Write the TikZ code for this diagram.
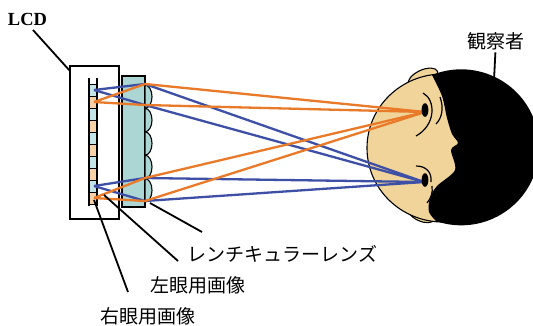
\documentclass[tikz,border=0pt]{standalone}
\usepackage{fontspec}
\setmainfont{Liberation Serif}
\newfontfamily\jpfont{Noto Sans CJK JP}

\definecolor{rayorange}{RGB}{232,122,42}
\definecolor{rayblue}{RGB}{62,80,165}
\definecolor{cellblue}{RGB}{196,228,232}
\definecolor{cellorange}{RGB}{247,210,168}
\definecolor{lensteal}{RGB}{172,214,212}
\definecolor{skin}{RGB}{241,212,154}

\begin{document}
\begin{tikzpicture}[
    x=1pt, y=-1pt,
    jplabel/.style={font=\jpfont\fontsize{19}{22}\selectfont, inner sep=0pt},
    leader/.style={line width=1.8pt},
    outline/.style={draw=black, line width=1.1pt},
    lray/.style={draw=rayorange, line width=2.3pt, line join=round},
    rray/.style={draw=rayblue, line width=2.3pt, line join=round}
]
\useasboundingbox[fill=white] (0,0) rectangle (533,325);

% LCD panel and its pixel column
\filldraw[outline, fill=white] (70,66) rectangle (119,219);
\foreach \k in {0,2,...,8}
    \fill[cellblue] (89,84+12*\k) rectangle (97,96+12*\k);
\foreach \k in {1,3,...,9}
    \fill[cellorange] (89,84+12*\k) rectangle (97,96+12*\k);
\foreach \k in {0,...,10}
    \draw[line width=0.9pt] (89,84+12*\k) -- (97,84+12*\k);
\draw[line width=1.1pt] (89,78) -- (89,206) (97,78) -- (97,206);

% Lenticular lens
\filldraw[outline, fill=lensteal] (122,76) rectangle (145,207);
\foreach \k in {0,...,4}
    \filldraw[outline, fill=lensteal] (145,85+23.4*\k)
        arc[start angle=-90, end angle=90, x radius=7, y radius=11.7] -- cycle;

% Head seen from above
\filldraw[outline, fill=skin, rotate around={25:(423,78)}] (423,78) ellipse[x radius=16, y radius=8];
\filldraw[outline, fill=skin, rotate around={-25:(421,214)}] (421,214) ellipse[x radius=14, y radius=7];
\filldraw[outline, fill=skin] (443,148) ellipse[x radius=76, y radius=74];
\fill[black] (432,75) arc[start angle=-112, end angle=108, radius=78]
    -- plot[smooth] coordinates {(437,222) (429,212) (430,198) (437,186) (455,170)
        (451,150) (458,143) (452,134) (447,118) (442,96) (432,75)} -- cycle;
\draw[line width=1.2pt] (423,93) .. controls (436,100) and (436,125) .. (416,136);
\draw[line width=1.2pt] (440,97) .. controls (444,108) and (442,118) .. (436,124);
\draw[line width=1.2pt] (416,166) .. controls (426,166) and (432,172) .. (431,182);
\draw[line width=1.2pt] (432,186) .. controls (433,193) and (431,198) .. (427,203);

% Ray points
\coordinate (pixR1) at (94,90);
\coordinate (pixL1) at (94,102);
\coordinate (pixR2) at (94,186);
\coordinate (pixL2) at (94,198);
\coordinate (lensA) at (145,84);
\coordinate (lensB) at (145,105);
\coordinate (lensC) at (145,178);
\coordinate (lensD) at (145,201);
\coordinate (eyeL) at (425,112);
\coordinate (eyeR) at (424,182);

% Rays
\foreach \p/\q in {pixR1/lensA, pixR1/lensB, pixR2/lensC, pixR2/lensD}
    \draw[rray] (\p) -- (\q) -- (eyeR);
\foreach \p/\q in {pixL1/lensA, pixL1/lensB, pixL2/lensC, pixL2/lensD}
    \draw[lray] (\p) -- (\q) -- (eyeL);

% Eyes
\fill[black] (425,110) ellipse[x radius=3.4, y radius=6.8];
\fill[black] (425,180) ellipse[x radius=3.4, y radius=6.8];

% Labels
\node[font=\bfseries\fontsize{18.5}{20}\selectfont, inner sep=0pt] (lcd) at (27.5,19) {LCD};
\node[jplabel] (observer) at (495.5,41.5) {観察者};
\node[jplabel] (lenslabel) at (282.5,253.5) {レンチキュラーレンズ};
\node[jplabel] (leftimg) at (197.5,285) {左眼用画像};
\node[jplabel] (rightimg) at (147.5,316.5) {右眼用画像};

% Leader lines
\coordinate (lcdfoot) at (33,30);
\coordinate (lcdtip) at (70,71);
\coordinate (headtip) at (494,80);
\coordinate (lenstip) at (150,203);
\coordinate (lensfoot) at (202,232);
\coordinate (lefttip) at (104,195);
\coordinate (leftfoot) at (178,261);
\coordinate (righttip) at (94,200);
\coordinate (rightfoot) at (128,292);
\draw[leader] (lcdfoot) -- (lcdtip);
\draw[leader, shorten <=2pt] (observer.south) -- (headtip);
\draw[leader] (lenstip) -- (lensfoot);
\draw[leader] (lefttip) -- (leftfoot);
\draw[leader] (righttip) -- (rightfoot);

\end{tikzpicture}
\end{document}
